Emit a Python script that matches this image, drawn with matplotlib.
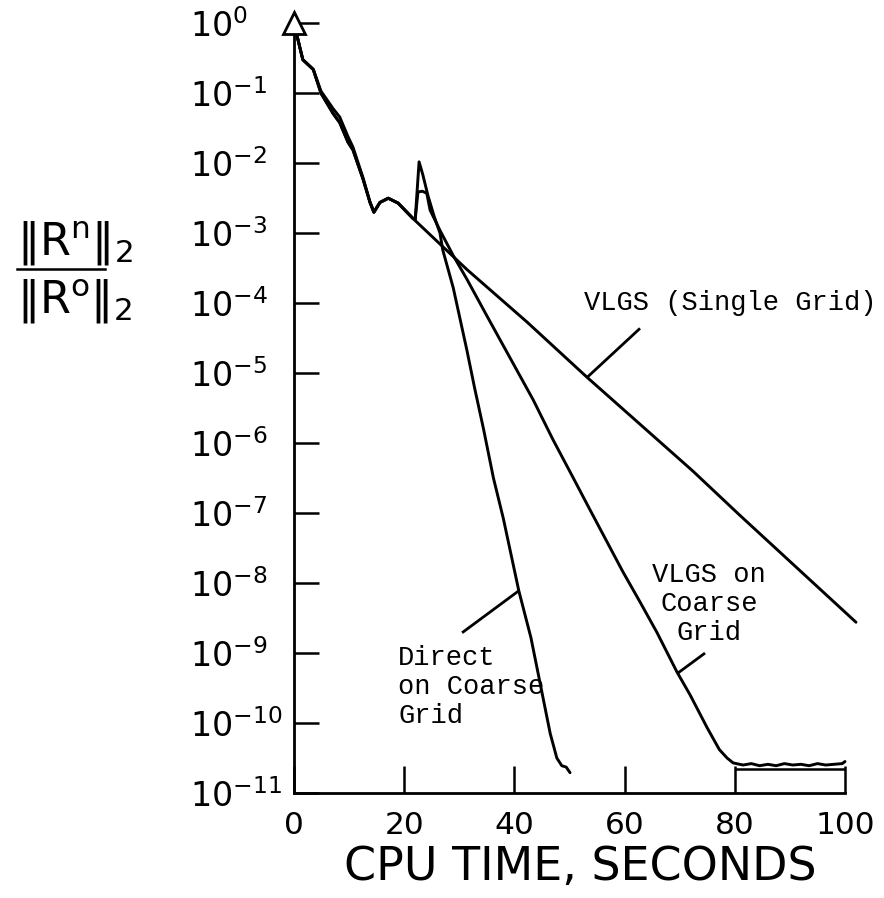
import matplotlib
matplotlib.use("Agg")
import numpy as np
import matplotlib.pyplot as plt
from matplotlib.lines import Line2D
from matplotlib.ticker import NullLocator

plt.rcParams['font.family'] = ['DejaVu Sans']
plt.rcParams['mathtext.fontset'] = 'dejavusans'
plt.rcParams['mathtext.default'] = 'regular'

# Residual histories: CPU time (s) and log10 of ||R^n||_2 / ||R^0||_2
start_t = [0, 1.6, 3.5, 4.9, 7.1, 8.3, 9.8, 10.7, 12.5, 13.8, 14.5, 15.6, 17.1, 18.9, 21.6]
start_single_log = [0, -0.52, -0.66, -0.97, -1.22, -1.34, -1.62, -1.77, -2.20, -2.56, -2.70,
                    -2.56, -2.50, -2.57, -2.79]
start_coarse_log = [0, -0.52, -0.66, -1.00, -1.29, -1.42, -1.70, -1.81, -2.22, -2.56, -2.70,
                    -2.56, -2.50, -2.57, -2.79]

single_t = [31.4, 42.3, 53.2, 72.4, 80.9, 102.0]
single_log = [-3.52, -4.27, -5.06, -6.40, -7.03, -8.56]

direct_t = [22.0, 22.7, 23.4, 24.3, 25.4, 26.5, 27.0, 28.9, 31.4, 32.8, 34.4, 36.2, 38.0,
            40.8, 43.0, 45.3, 46.5, 47.7, 48.6, 49.4, 50.1]
direct_log = [-2.80, -1.98, -2.17, -2.46, -2.75, -3.00, -3.24, -3.78, -4.68, -5.22, -5.80,
              -6.50, -7.08, -8.11, -8.78, -9.68, -10.15, -10.50, -10.61, -10.63, -10.71]

coarse_t = [22.0, 22.5, 23.3, 24.1, 24.7, 26.5, 28.9, 31.4, 35.0, 39.2, 43.4, 47.0, 50.5,
            53.7, 56.8, 59.7, 62.8, 65.9, 69.5, 71.9, 75.0, 77.2, 78.6, 79.7,
            81.5, 83.0, 84.5, 86.0, 87.5, 89.0, 90.5, 92.0, 93.5, 95.0, 96.5, 98.0, 99.5, 100.0]
coarse_log = [-2.80, -2.41, -2.40, -2.43, -2.67, -2.96, -3.32, -3.66, -4.18, -4.78, -5.38,
              -5.95, -6.47, -6.95, -7.41, -7.84, -8.27, -8.71, -9.27, -9.60, -10.07, -10.38,
              -10.50, -10.57, -10.60, -10.58, -10.61, -10.59, -10.61, -10.58, -10.60, -10.59,
              -10.61, -10.58, -10.60, -10.59, -10.58, -10.55]

# Baseline under the converged plateau (80 s to 100 s)
floor_t = [80, 100]
floor_log = -10.66

# Leader lines from the labels to the curves
single_leader_t = [53.2, 62.8]
single_leader_log = [-5.06, -4.36]
direct_leader_t = [40.8, 30.5]
direct_leader_log = [-8.11, -8.71]
coarse_leader_t = [69.6, 74.6]
coarse_leader_log = [-9.29, -9.00]

x_ticks = [0, 20, 40, 60, 80, 100]
y_exponents = list(range(0, -12, -1))


def pw(logs):
    return 10.0 ** np.asarray(logs, dtype=float)


fig = plt.figure(figsize=(8.84, 8.98), dpi=100)
ax = fig.add_axes([0.33258, 0.11693, 0.62330, 0.85713])
ax.set_yscale('log')
ax.set_xlim(0, 100)
ax.set_ylim(1e-11, 1)

lw = 2.1
kw = dict(color='black', lw=lw, solid_joinstyle='round', solid_capstyle='round', clip_on=False)
ax.plot(start_t + single_t, pw(start_single_log + single_log), **kw)
ax.plot(start_t + direct_t, pw(start_coarse_log + direct_log), **kw)
ax.plot(start_t + coarse_t, pw(start_coarse_log + coarse_log), **kw)
ax.hlines(10.0 ** floor_log, floor_t[0], floor_t[1], color='black', lw=1.8)

ax.plot([0], [1], marker='^', ms=16, mfc='white', mec='black', mew=2.0,
        clip_on=False, zorder=6)

lkw = dict(color='black', lw=2.0, solid_capstyle='butt')
ax.plot(single_leader_t, pw(single_leader_log), **lkw)
ax.plot(direct_leader_t, pw(direct_leader_log), **lkw)
ax.plot(coarse_leader_t, pw(coarse_leader_log), **lkw)

mono = dict(family=['Liberation Mono', 'DejaVu Sans Mono'], fontsize=19.5, color='black',
            linespacing=1.15)
ax.text(52.6, 10.0 ** -4.0, 'VLGS (Single Grid)', ha='left', va='center', **mono)
ax.text(18.9, 10.0 ** -9.48, 'Direct\non Coarse\nGrid', ha='left', va='center',
        multialignment='left', **mono)
ax.text(75.3, 10.0 ** -8.30, 'VLGS on\nCoarse\nGrid', ha='center', va='center',
        multialignment='center', **mono)

for side in ('top', 'right'):
    ax.spines[side].set_visible(False)
for side in ('left', 'bottom'):
    ax.spines[side].set_linewidth(2.0)

ax.set_xticks(x_ticks)
ax.set_yticks([10.0 ** e for e in y_exponents])
ax.yaxis.set_minor_locator(NullLocator())
ax.tick_params(axis='x', direction='in', length=19.5, width=1.8, labelsize=22.5, pad=13)
ax.tick_params(axis='y', direction='in', length=18, width=1.8, labelsize=24, pad=75)
for lbl in ax.get_yticklabels():
    lbl.set_horizontalalignment('left')

ax.set_xlabel('CPU TIME, SECONDS', fontsize=33, va='center')
ax.xaxis.set_label_coords(0.52, -0.0974)

# Normalised residual as a stacked fraction on the left
fig.text(17 / 884, 1 - 255 / 898, r'$\|R^{n}\|_{2}$', fontsize=32, ha='left', va='baseline')
fig.text(17 / 884, 1 - 313 / 898, r'$\|R^{o}\|_{2}$', fontsize=32, ha='left', va='baseline')
fig.add_artist(Line2D([17 / 884, 105 / 884], [1 - 269 / 898] * 2, transform=fig.transFigure,
                      color='black', lw=1.8))

fig.savefig('out.png', dpi=100)
